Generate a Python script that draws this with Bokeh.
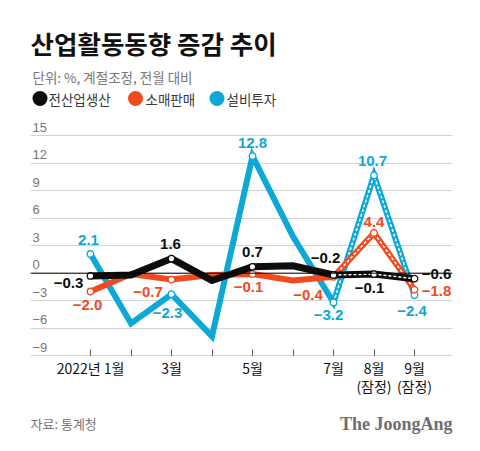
from bokeh.plotting import figure
from bokeh.layouts import column
from bokeh.models import ColumnDataSource, FixedTicker, Span, Label, Range1d
from bokeh.core.properties import value
from bokeh.embed import file_html
from bokeh.resources import INLINE

# ---------------- data ----------------
months = [1, 2, 3, 4, 5, 6, 7, 8, 9]
month_labels = ["2022년 1월", "", "3월", "", "5월", "", "7월", "8월\n(잠정)", "9월\n(잠정)"]
production = [-0.3, -0.2, 1.6, -0.8, 0.7, 0.8, -0.2, -0.1, -0.6]    # 전산업생산
retail = [-2.0, -0.1, -0.7, -0.2, -0.1, -0.8, -0.4, 4.4, -1.8]       # 소매판매
investment = [2.1, -5.5, -2.3, -6.9, 12.8, 4.0, -3.2, 10.7, -2.4]    # 설비투자
series_names = ["전산업생산", "소매판매", "설비투자"]
y_ticks = [-9, -6, -3, 0, 3, 6, 9, 12, 15]
labeled_idx = [0, 2, 4, 6, 7, 8]
provisional_start = 6  # index of 7월: segments after it are provisional (dotted)

# ---------------- style / layout ----------------
BLACK = "#0d0d0d"
RED = "#f04a1e"
BLUE = "#0ea8d6"
KR = "Noto Sans CJK KR"
LAT = "Liberation Sans"

W = 480
FOOT_H = 36
MB_L, MB_R, MB_T, MB_B = 30, 28, 20, 60
FRAME_W, FRAME_H = W - MB_L - MB_R, 335
PX_X = 40.5      # px per month
PX_Y = 9.146     # px per unit
x_start = 1 - 60 / PX_X
x_end = x_start + FRAME_W / PX_X
y_start = -9
y_end = y_start + FRAME_H / PX_Y

# label offsets (px) for each labelled point
offsets = {
    "production": [(-22, 7), (-1, -15), (0, -15), (-8, -17.5), (-4.5, 13.5), (22, -5)],
    "retail": [(-3, 14), (-23.5, 12), (-4, 13), (-25.5, 18.6), (0, -11), (22, 1)],
    "investment": [(-2, -13.5), (-4, 19), (0, -13), (-5, 13), (-1.5, -14), (-2.5, 15.5)],
}
# legend key positions, px from frame left / frame bottom
legend_dot_px = [9.5, 105, 186.5]
legend_text_px = [18, 115, 196]
legend_y_px = 257


def sx_to_x(px):
    return x_start + px / PX_X


def sy_to_y(py):
    return y_start + py / PX_Y


p = figure(frame_width=FRAME_W, frame_height=FRAME_H,
           x_range=Range1d(x_start, x_end), y_range=Range1d(y_start, y_end),
           y_axis_location=None,
           output_backend="svg", toolbar_location=None, title=None,
           min_border_left=MB_L, min_border_right=MB_R, min_border_top=MB_T, min_border_bottom=MB_B)
p.outline_line_color = None
p.background_fill_color = "white"
p.border_fill_color = "white"

# grid
p.xgrid.visible = False
p.ygrid.ticker = FixedTicker(ticks=y_ticks)
p.ygrid.grid_line_color = "#d2d2d2"
p.ygrid.grid_line_width = 1

# x axis
p.xaxis.ticker = FixedTicker(ticks=months)
p.xaxis.major_label_overrides = {m: lab for m, lab in zip(months, month_labels)}
p.xaxis.axis_line_color = "#d2d2d2"
p.xaxis.major_tick_line_color = "#555555"
p.xaxis.major_tick_in = 6
p.xaxis.major_tick_out = 0
p.xaxis.minor_tick_line_color = None
p.xaxis.major_label_standoff = 2
p.xaxis.major_label_text_font = KR
p.xaxis.major_label_text_font_size = "14px"
p.xaxis.major_label_text_line_height = 0.9
p.xaxis.major_label_text_color = "#111111"

# zero line
p.add_layout(Span(location=0, dimension="width", line_color="black", line_width=1))

# y tick labels
ytxt = [str(t).replace("-", "\u2212") for t in y_ticks]
p.text(x=[x_start] * len(y_ticks), y=y_ticks, text=ytxt, x_offset=2, y_offset=-8.5,
       text_align="left", text_baseline="alphabetic", text_font=value(LAT),
       text_font_size="13px", text_color="#777777")


def fmt(v):
    return f"{v:.1f}".replace("-", "\u2212")


for key, vals, color, lw in [("investment", investment, BLUE, 6),
                             ("retail", retail, RED, 6),
                             ("production", production, BLACK, 7)]:
    p.line(months, vals, line_color=color, line_width=lw, line_join="miter")
    p.line(months[provisional_start:], vals[provisional_start:], line_color="white",
           line_width=1.5, line_dash="3 2")
    xs = [months[i] for i in labeled_idx]
    ys = [vals[i] for i in labeled_idx]
    p.scatter(xs, ys, size=6.5, fill_color="white", line_color=color, line_width=1.3)
    src = ColumnDataSource(dict(x=xs, y=ys, text=[fmt(v) for v in ys],
                                dx=[o[0] for o in offsets[key]], dy=[o[1] for o in offsets[key]]))
    p.text(x="x", y="y", text="text", x_offset="dx", y_offset="dy", source=src,
           text_font=value(LAT), text_font_style="bold", text_font_size="15px",
           text_color=color, text_align="center", text_baseline="middle")

# legend: coloured dots + names
p.scatter(x=[sx_to_x(v) for v in legend_dot_px], y=[sy_to_y(legend_y_px)] * 3, marker="circle",
          size=15, fill_color=[BLACK, RED, BLUE], line_color=None)
for name, tx in zip(series_names, legend_text_px):
    p.add_layout(Label(x=tx, y=legend_y_px, x_units="screen", y_units="screen", text=name,
                       text_font=KR, text_font_size="13.5px", text_color="#3a3a3a",
                       text_baseline="middle"))

# titles
p.add_layout(Label(x=0, y=313.5, x_units="screen", y_units="screen", text="산업활동동향 증감 추이",
                   text_font=KR, text_font_style="bold", text_font_size="25.5px",
                   text_color="#111111", text_baseline="middle"))
p.add_layout(Label(x=2, y=278.5, x_units="screen", y_units="screen", text="단위: %, 계절조정, 전월 대비",
                   text_font=KR, text_font_size="13.5px", text_color="#777777", text_baseline="middle"))

# footer (its frame is aligned with the main frame inside the column)
f = figure(width=W, height=FOOT_H, x_range=Range1d(MB_L, W - MB_R), y_range=Range1d(FOOT_H, 0),
           x_axis_location=None, y_axis_location=None,
           output_backend="svg", toolbar_location=None, title=None,
           min_border_left=0, min_border_right=0, min_border_top=0, min_border_bottom=0)
f.grid.visible = False
f.outline_line_color = None
f.text(x=[30], y=[8], text=["자료: 통계청"], text_font=value(KR), text_font_size="13px",
       text_color="#777777", text_baseline="middle", text_align="left")
f.text(x=[452], y=[8], text=["The JoongAng"], text_font=value("Liberation Serif"),
       text_font_style="bold", text_font_size="18px", text_color="#6e6e6e",
       text_baseline="middle", text_align="right")

layout = column(p, f, spacing=0)
open("out.html", "w").write(file_html(layout, INLINE))
